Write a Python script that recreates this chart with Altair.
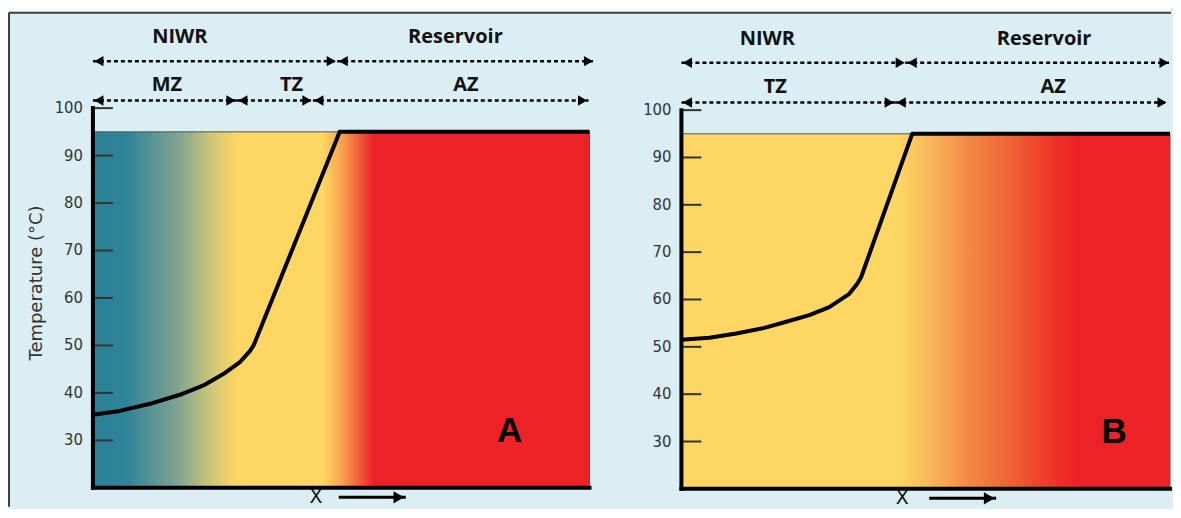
import altair as alt
import pandas as pd

# ---------------- data ----------------
temp_ticks = [30, 40, 50, 60, 70, 80, 90, 100]

# temperature profile (x in % of panel width, y in °C)
a_curve_x = [0, 5.4, 11.5, 17.5, 22.5, 26.6, 29.6, 31.6, 32.4, 49.7, 100]
a_curve_y = [35.4, 36.2, 37.7, 39.6, 41.7, 44.2, 46.5, 48.8, 50.1, 95, 95]
b_curve_x = [0, 5.6, 11, 16.6, 21, 25.6, 29.6, 33.6, 35.2, 36, 46.2, 97.8]
b_curve_y = [51.5, 51.9, 52.8, 54.0, 55.3, 56.7, 58.4, 61.2, 63.3, 64.8, 95, 95]

a_zone_x = [0, 100]
b_zone_x = [0, 97.8]      # panel B is cropped at the right edge
zone_y = [20, 95]

# zone headers
a_head_labels = ["NIWR", "Reservoir", "MZ", "TZ", "AZ"]
a_head_x = [17.5, 73.0, 14.9, 40.0, 75.1]
a_head_y = [115, 115, 104.85, 104.85, 104.85]
b_head_labels = ["NIWR", "Reservoir", "TZ", "AZ"]
b_head_x = [17.2, 72.6, 18.8, 74.4]
b_head_y = [115, 115, 104.85, 104.85]

# double-headed dashed spans
a_span_start = [0, 49.2, 0, 29.0, 44.3]
a_span_end = [49.2, 101.0, 29.0, 44.3, 99.8]
a_span_y = [109.9, 109.9, 101.6, 101.6, 101.6]
b_span_start = [0, 45.0, 0, 42.8]
b_span_end = [45.0, 97.8, 42.8, 97.4]
b_span_y = [110.0, 110.0, 101.6, 101.6]

# panel letters and x-direction labels
a_letter, a_letter_x, a_letter_y = "A", 83.9, 32.0
b_letter, b_letter_x, b_letter_y = "B", 86.6, 32.0
a_xlab_x, b_xlab_x = 44.9, 44.2
xlab_y = 16.7          # baseline of the "X" label
arrow_y = 18.0
a_arrow = [49.5, 63.0]
b_arrow = [49.6, 63.0]
y_title = "Temperature (°C)"

a_ydomain = [15.79, 121.05]
b_ydomain = [16.0, 121.53]

TEAL = "#2A8298"
YEL = "#FDD663"
RED = "#ED2226"

a_stops = [(0, TEAL), (0.065, "#2E8398"), (0.17, "#7FA392"), (0.235, "#C9C679"),
           (0.29, YEL), (0.463, YEL), (0.50, "#F9A450"), (0.535, "#F2603A"),
           (0.565, RED), (1, RED)]
b_stops = [(0, YEL), (0.446, YEL), (0.51, "#F9B75B"), (0.59, "#F28845"),
           (0.69, "#EF5A32"), (0.77, "#ED3028"), (0.81, RED), (1, RED)]

LABEL_FONT = "DejaVu Sans Condensed, DejaVu Sans"
PLOT_H = 500


def panel(curve_x, curve_y, zone_x, stops, head_labels, head_x, head_y,
          span_s, span_e, span_y, letter, letter_x, letter_y,
          xlab_x, arrow, ydomain, width, title=None, frame=False):
    xs = alt.Scale(domain=zone_x, nice=False, zero=False)
    ys = alt.Scale(domain=ydomain, nice=False, zero=False)

    def X(f):
        return alt.X(f, type="quantitative", scale=xs, axis=None)

    def Y(f):
        return alt.Y(f, type="quantitative", scale=ys, axis=None)

    grad = alt.LinearGradient(
        gradient="linear", x1=0, x2=1, y1=0, y2=0,
        stops=[alt.GradientStop(offset=o, color=c) for o, c in stops])

    zone_df = pd.DataFrame({"x": [zone_x[0]], "x2": [zone_x[1]],
                            "y": [zone_y[0]], "y2": [zone_y[1]]})
    fill = alt.Chart(zone_df).mark_rect(fill=grad, stroke="#555555", strokeWidth=1).encode(
        x=X("x"), x2="x2", y=Y("y"), y2="y2")

    tick_df = pd.DataFrame({"y": temp_ticks})
    ticks = alt.Chart(tick_df).mark_rule(color="#333333", strokeWidth=2).encode(
        x=alt.value(0), x2=alt.value(20), y=Y("y"))
    tick_labels = alt.Chart(tick_df).mark_text(
        font=LABEL_FONT, fontSize=16.5, color="#333333", align="right", baseline="middle"
    ).encode(x=alt.value(-10), y=Y("y"), text="y:Q")

    frame_df = pd.DataFrame({"x": [0, 0], "x2": [0, zone_x[1]], "y": [20, 20], "y2": [100, 20]})
    axes = alt.Chart(frame_df).mark_rule(color="black", strokeWidth=4, strokeCap="square").encode(
        x=X("x"), x2="x2", y=Y("y"), y2="y2")

    curve_df = pd.DataFrame({"x": curve_x, "y": curve_y})
    curve = alt.Chart(curve_df).mark_line(color="black", strokeWidth=4, strokeJoin="round").encode(
        x=X("x"), y=Y("y"))

    span_df = pd.DataFrame({"s": span_s, "e": span_e, "y": span_y})
    spans = alt.Chart(span_df).mark_rule(color="black", strokeWidth=2.5, strokeDash=[4, 3]).encode(
        x=X("s"), x2="e", y=Y("y"))
    heads_l = alt.Chart(span_df).mark_point(shape="triangle-left", filled=True, size=110,
                                            color="black", opacity=1, xOffset=6).encode(
        x=X("s"), y=Y("y"))
    heads_r = alt.Chart(span_df).mark_point(shape="triangle-right", filled=True, size=110,
                                            color="black", opacity=1, xOffset=-6).encode(
        x=X("e"), y=Y("y"))

    head_df = pd.DataFrame({"x": head_x, "y": head_y, "t": head_labels})
    heads_txt = alt.Chart(head_df).mark_text(font="Open Sans", fontWeight="bold", fontSize=20,
                                             color="#111111", align="center", baseline="middle").encode(
        x=X("x"), y=Y("y"), text="t:N")

    let_df = pd.DataFrame({"x": [letter_x], "y": [letter_y], "t": [letter]})
    let_txt = alt.Chart(let_df).mark_text(font="Liberation Sans", fontWeight="bold", fontSize=35,
                                          color="black", align="center", baseline="middle").encode(
        x=X("x"), y=Y("y"), text="t:N")

    xl_df = pd.DataFrame({"x": [xlab_x], "y": [xlab_y], "t": ["X"]})
    xl_txt = alt.Chart(xl_df).mark_text(font="DejaVu Sans", fontSize=19, color="#111111",
                                        align="center", baseline="alphabetic").encode(
        x=X("x"), y=Y("y"), text="t:N")
    arr_df = pd.DataFrame({"s": [arrow[0]], "e": [arrow[1]], "y": [arrow_y]})
    arr_line = alt.Chart(arr_df).mark_rule(color="black", strokeWidth=3).encode(
        x=X("s"), x2="e", y=Y("y"))
    arr_head = alt.Chart(arr_df).mark_point(shape="triangle-right", filled=True, size=150,
                                            color="black", opacity=1, xOffset=-7).encode(
        x=X("e"), y=Y("y"))

    layers = []
    if frame:
        one = pd.DataFrame({"k": [0]})
        layers += [
            alt.Chart(one).mark_rect(fill="white").encode(
                x=alt.value(-85), x2=alt.value(1079), y=alt.value(0), y2=alt.value(3.5)),
            alt.Chart(one).mark_rule(color="#404040", strokeWidth=2).encode(
                x=alt.value(-84), x2=alt.value(1079), y=alt.value(4.5)),
            alt.Chart(one).mark_rule(color="#404040", strokeWidth=2).encode(
                x=alt.value(-84), y=alt.value(4.5), y2=alt.value(PLOT_H - 1)),
        ]
    layers += [fill, ticks, tick_labels, axes, curve, spans, heads_l, heads_r, heads_txt,
               let_txt, xl_txt, arr_line, arr_head]
    if title:
        t_df = pd.DataFrame({"t": [title]})
        layers.append(alt.Chart(t_df).mark_text(
            font="DejaVu Sans", fontSize=18, color="#333333", angle=270,
            align="center", baseline="alphabetic").encode(
            x=alt.value(-51), y=alt.value(275), text="t:N"))
    return alt.layer(*layers).properties(width=width, height=PLOT_H)


panel_a = panel(a_curve_x, a_curve_y, a_zone_x, a_stops, a_head_labels, a_head_x, a_head_y,
                a_span_start, a_span_end, a_span_y, a_letter, a_letter_x, a_letter_y,
                a_xlab_x, a_arrow, a_ydomain, 497, title=y_title, frame=True)
panel_b = panel(b_curve_x, b_curve_y, b_zone_x, b_stops, b_head_labels, b_head_x, b_head_y,
                b_span_start, b_span_end, b_span_y, b_letter, b_letter_x, b_letter_y,
                b_xlab_x, b_arrow, b_ydomain, 489)

chart = alt.hconcat(panel_a, panel_b, spacing=92, bounds="flush").properties(
    background="#DAEEF3", padding=0
).configure_view(stroke=None)

chart.save("out.html", embed_options={"renderer": "svg", "actions": False})
